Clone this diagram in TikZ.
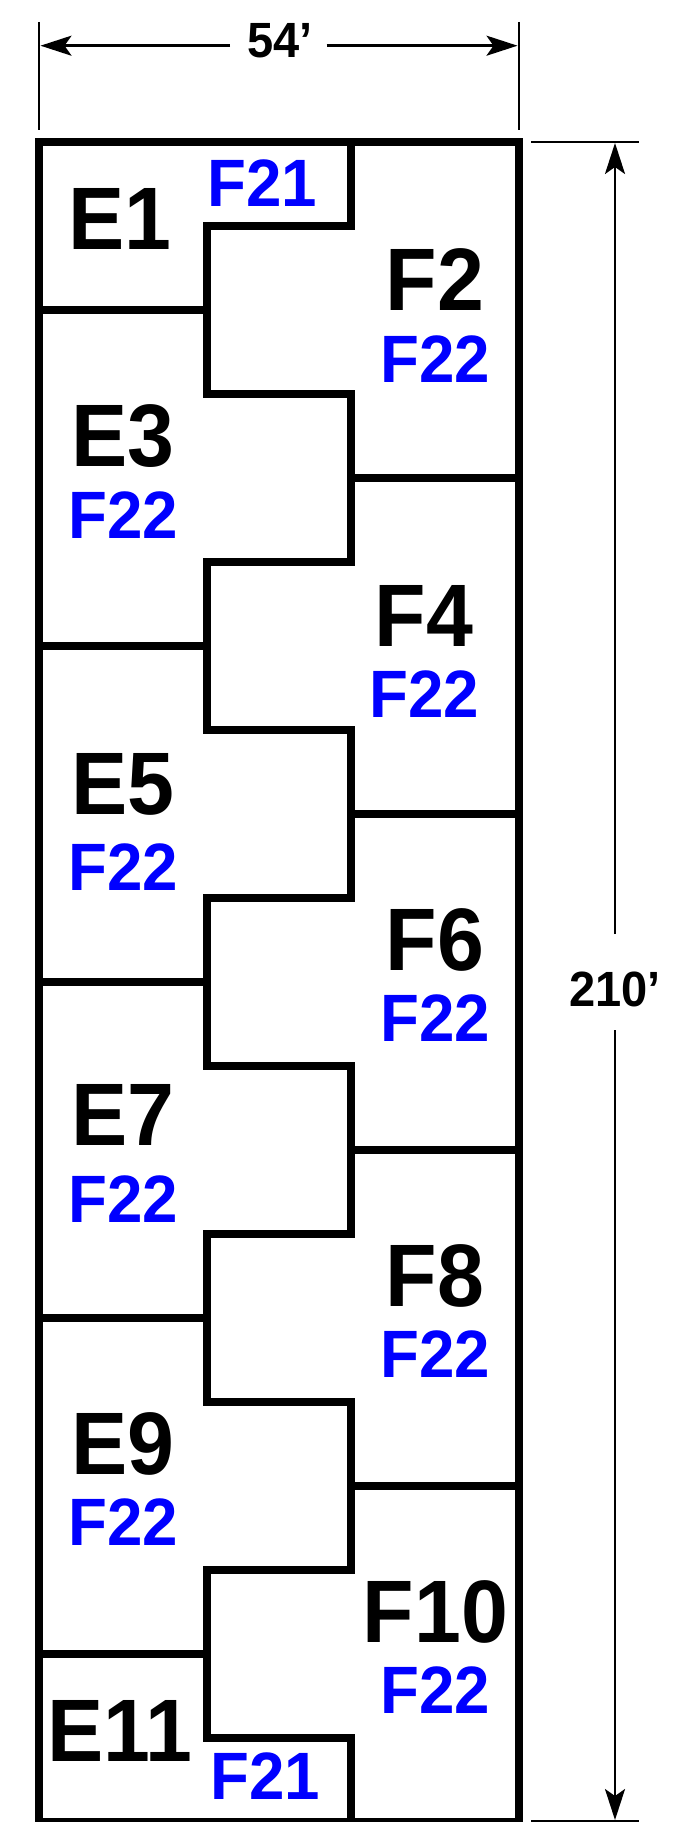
\documentclass[tikz,border=0pt]{standalone}
\usepackage{fontspec}
\setmainfont[FakeStretch=0.95]{Liberation Sans}
\usetikzlibrary{arrows.meta}
\tikzset{
  wall/.style={draw=black,line width=8pt},
  dimline/.style={draw=black,line width=2.5pt},
  dimarrow/.style={dimline,-{Stealth[length=31pt,width=20pt,inset=7pt]}},
  lotname/.style={anchor=base,inner sep=0pt,font=\bfseries\fontsize{88.7}{88.7}\selectfont},
  lotcode/.style={anchor=base,inner sep=0pt,text=blue,font=\bfseries\fontsize{67}{67}\selectfont},
  dimtext/.style={anchor=base,inner sep=0pt,font=\bfseries\fontsize{49.5}{49.5}\selectfont}
}
\begin{document}
\begin{tikzpicture}[x=1pt,y=-1pt]
  \useasboundingbox (0,0) rectangle (694,1822);
  \draw[wall] (39,142) rectangle (519,1822);
  \draw[wall] (351,142) -- (351,226) -- (207,226) -- (207,394) -- (351,394)
    -- (351,562) -- (207,562) -- (207,730) -- (351,730)
    -- (351,898) -- (207,898) -- (207,1066) -- (351,1066)
    -- (351,1234) -- (207,1234) -- (207,1402) -- (351,1402)
    -- (351,1570) -- (207,1570) -- (207,1738) -- (351,1738) -- (351,1822);
  \draw[wall] (39,310) -- (207,310);
  \draw[wall] (39,646) -- (207,646);
  \draw[wall] (39,982) -- (207,982);
  \draw[wall] (39,1318) -- (207,1318);
  \draw[wall] (39,1654) -- (207,1654);
  \draw[wall] (351,478) -- (519,478);
  \draw[wall] (351,814) -- (519,814);
  \draw[wall] (351,1150) -- (519,1150);
  \draw[wall] (351,1486) -- (519,1486);

  \node[lotname](E1)at(120, 249){E1};
  \node[lotname](E3)at(123, 466){E3};
  \node[lotname](E5)at(123, 814){E5};
  \node[lotname](E7)at(123, 1145.3){E7};
  \node[lotname](E9)at(123, 1474){E9};
  \node[lotname](E11)at(120, 1761){E11};
  \node[lotname](F2)at(435, 310){F2};
  \node[lotname](F4)at(424, 646){F4};
  \node[lotname](F6)at(435, 970){F6};
  \node[lotname](F8)at(435, 1306){F8};
  \node[lotname](F10)at(435.5, 1642){F10};

  \node[lotcode](topF21)at(262, 206.7){F21};
  \node[lotcode](F2code)at(435.5, 382){F22};
  \node[lotcode](E3code)at(123.5, 538){F22};
  \node[lotcode](F4code)at(424, 717){F22};
  \node[lotcode](E5code)at(123.5, 890){F22};
  \node[lotcode](F6code)at(435.5, 1041.3){F22};
  \node[lotcode](E7code)at(123.5, 1222){F22};
  \node[lotcode](F8code)at(435.5, 1377.7){F22};
  \node[lotcode](E9code)at(123.5, 1545.7){F22};
  \node[lotcode](F10code)at(435.5, 1713){F22};
  \node[lotcode](botF21)at(265, 1799.3){F21};

  \node[dimtext](width)at(280, 58){54’};
  \node[dimtext](depth)at(615, 1006){210’};

  \coordinate (wTickLa) at (39,22);
  \coordinate (wTickLb) at (39,130);
  \coordinate (wTickRa) at (519,22);
  \coordinate (wTickRb) at (519,130);
  \coordinate (wEndL) at (40.5,45.7);
  \coordinate (wGapL) at (230,45.7);
  \coordinate (wGapR) at (326.5,45.7);
  \coordinate (wEndR) at (517.5,45.7);
  \coordinate (dTickTa) at (531,142);
  \coordinate (dTickTb) at (639,142);
  \coordinate (dTickBa) at (531,1821);
  \coordinate (dTickBb) at (639,1821);
  \coordinate (dEndT) at (615,143);
  \coordinate (dGapT) at (615,934);
  \coordinate (dGapB) at (615,1030);
  \coordinate (dEndB) at (615,1820);

  \draw[dimline] (wTickLa) -- (wTickLb);
  \draw[dimline] (wTickRa) -- (wTickRb);
  \draw[dimline] (dTickTa) -- (dTickTb);
  \draw[dimline] (dTickBa) -- (dTickBb);
  \draw[dimarrow] (wGapL) -- (wEndL);
  \draw[dimarrow] (wGapR) -- (wEndR);
  \draw[dimarrow] (dGapT) -- (dEndT);
  \draw[dimarrow] (dGapB) -- (dEndB);
\end{tikzpicture}
\end{document}
